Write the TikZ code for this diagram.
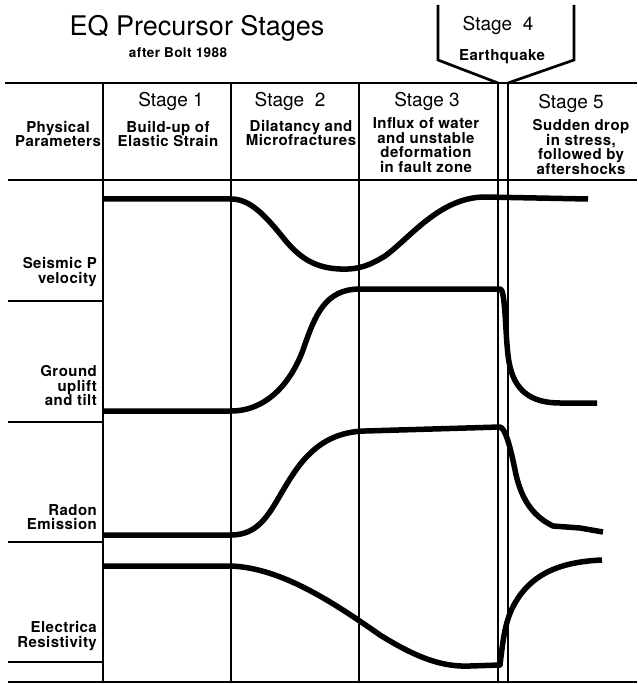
\documentclass[tikz,border=0pt]{standalone}
\usepackage{fontspec}
\setmainfont{TeX Gyre Heros}[BoldFeatures={LetterSpace=3}]

\begin{document}
\begin{tikzpicture}[x=1pt,y=-1pt,
	grid/.style={line width=2.7pt},
	curve/.style={line width=5.5pt,line join=round},
	lbl/.style={font=\fontsize{15}{14.5}\selectfont\bfseries,align=center,inner sep=0pt},
	par/.style={lbl,align=right,anchor=east},
	stg/.style={font=\fontsize{19}{22}\selectfont,inner sep=0pt}]
	\useasboundingbox (0,0) rectangle (637,684);

	\draw[grid] (5,83)--(637,83);
	\draw[grid] (8,180)--(637,180);
	\draw[grid] (8,682)--(637,682);
	\foreach \x in {103,231,359}
		\draw[grid] (\x,83)--(\x,682);
	\draw[grid] (498,83)--(498,682);
	\draw[grid] (508,83)--(508,682);
	\foreach \y in {301,422,542,662}
		\draw[grid] (8,\y)--(103,\y);
	\draw[grid] (438,5)--(438,60)--(498,83);
	\draw[grid] (574,5)--(574,60)--(508,83);

	\node[font=\fontsize{27}{30}\selectfont,inner sep=0pt] (title) at (197,28) {EQ Precursor Stages};
	\node[font=\fontsize{13.5}{15}\selectfont\bfseries,inner sep=0pt] (bolt) at (178,53) {after Bolt 1988};

	\node[stg] (st1) at (171,101) {Stage 1};
	\node[stg] (st2) at (290,101) {Stage~~2};
	\node[stg] (st3) at (427,101) {Stage 3};
	\node[stg] (st4) at (498,25) {Stage~~4};
	\node[stg] (st5) at (571,103) {Stage 5};

	\node[lbl] (phys) at (58,134) {Physical\\Parameters};
	\node[lbl] (buildup) at (168,134) {Build-up of\\Elastic Strain};
	\node[lbl] (dilat) at (301,133) {Dilatancy and\\Microfractures};
	\node[lbl] (influx) at (426,145) {Influx of water\\and unstable\\deformation\\in fault zone};
	\node[lbl] (quake) at (502,57) {Earthquake};
	\node[lbl] (drop) at (581,147) {Sudden drop\\in stress,\\followed by\\aftershocks};

	\node[par] (seis) at (97,272) {Seismic P\\velocity};
	\node[par] (uplift) at (97,386) {Ground\\uplift\\and tilt};
	\node[par] (radon) at (97,517) {Radon\\Emission};
	\node[par] (resist) at (97,636) {Electrica\\Resistivity};

	% precursor curves
	\draw[curve] (103,199) -- (231,199) .. controls (250,199) and (265,215) .. (285,240)
		.. controls (300,258) and (315,268) .. (340,269) .. controls (360,270) and (372,264) .. (385,256)
		.. controls (410,238) and (440,197) .. (485,197) -- (588,199);
	\draw[curve] (103,411) -- (231,411) .. controls (265,411) and (290,385) .. (303,350)
		.. controls (315,315) and (325,289) .. (360,289) -- (500,289)
		.. controls (506,289) and (505,340) .. (509,362) .. controls (514,390) and (530,403) .. (560,403) -- (597,403);
	\draw[curve] (103,535) -- (231,535) .. controls (260,535) and (270,512) .. (285,487)
		.. controls (300,462) and (320,432) .. (365,431) -- (500,427)
		.. controls (505,428) and (510,445) .. (515,470) .. controls (520,495) and (530,515) .. (553,526)
		-- (580,528) -- (603,532);
	\draw[curve] (103,566) -- (231,566) .. controls (280,568) and (330,600) .. (380,635)
		.. controls (420,660) and (445,667) .. (470,666) -- (500,665)
		.. controls (503,640) and (505,620) .. (515,603) .. controls (530,577) and (555,562) .. (602,560);
\end{tikzpicture}
\end{document}
